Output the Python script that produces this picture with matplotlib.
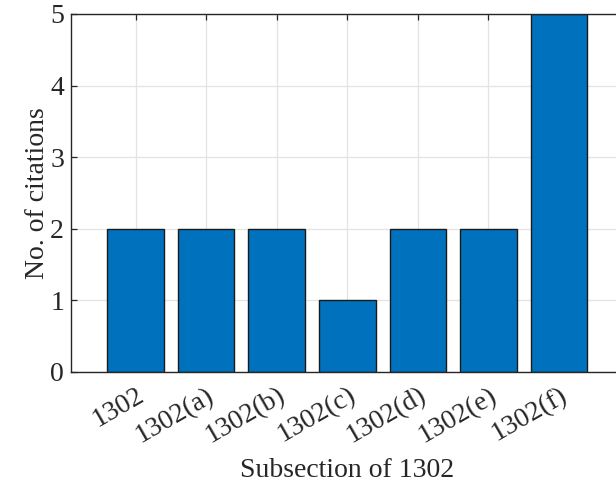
import numpy as np
import matplotlib
matplotlib.use("Agg")
import matplotlib.pyplot as plt
import matplotlib.transforms as mtransforms

# Data
subsections = ['1302', '1302(a)', '1302(b)', '1302(c)', '1302(d)', '1302(e)', '1302(f)']
citations = [2, 2, 2, 1, 2, 2, 5]

plt.rcParams['font.family'] = ['Liberation Serif', 'DejaVu Serif']

fig = plt.figure(figsize=(6.16, 4.82), dpi=100)
# axes runs past the right edge of the picture, like the cropped original
ax = fig.add_axes([71 / 616, 110.3 / 482, 552.6 / 616, 357.7 / 482])

x = np.arange(1, len(subsections) + 1)
ax.bar(x, citations, width=0.8, color='#0072BD', edgecolor='#1a1a1a',
       linewidth=1.0, zorder=3)

ax.set_xlim(0.085, 7.915)
ax.set_ylim(0, 5)
ax.set_xticks(x)
ax.set_xticklabels(subsections, rotation=30, ha='right', va='top',
                   rotation_mode='anchor')
ax.set_yticks(range(0, 6))

# nudge rotated labels a little right/down
offset = mtransforms.ScaledTranslation(5 / 100, -2 / 100, fig.dpi_scale_trans)
for lbl in ax.get_xticklabels():
    lbl.set_transform(lbl.get_transform() + offset)

ax.grid(True, color='#e3e3e3', linewidth=0.9, zorder=0)
ax.set_axisbelow(True)

ax.tick_params(direction='in', length=4, width=0.9, color='#262626',
               labelsize=20, labelcolor='#262626', top=True, right=True)
ax.tick_params(axis='x', pad=8)
ax.tick_params(axis='y', pad=5)
for s in ax.spines.values():
    s.set_color('#262626')
    s.set_linewidth(1.0)
    s.set_zorder(4)

ax.set_xlabel('Subsection of 1302', fontsize=20, color='#262626', labelpad=7)
ax.set_ylabel('No. of citations', fontsize=20, color='#262626', labelpad=0)

fig.savefig('out.png', dpi=100)
